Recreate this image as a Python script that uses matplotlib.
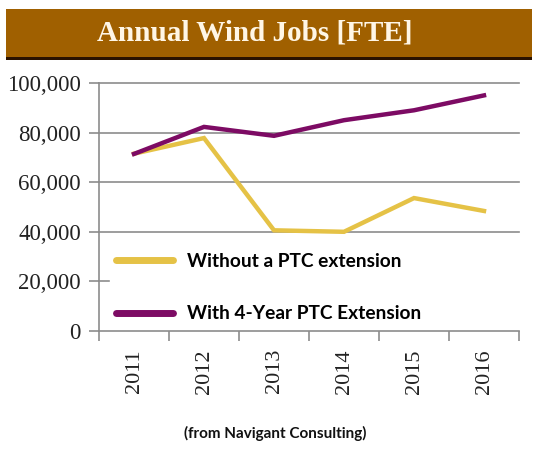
import matplotlib
matplotlib.use("Agg")
import matplotlib.pyplot as plt
from matplotlib.patches import Rectangle
from matplotlib.ticker import FuncFormatter, FixedLocator

years = ["2011", "2012", "2013", "2014", "2015", "2016"]
without_ptc = [71500, 77800, 40600, 40000, 53600, 48400]
with_ptc = [71400, 82300, 78700, 85000, 89000, 95000]
y_ticks = [0, 20000, 40000, 60000, 80000, 100000]
title = "Annual Wind Jobs [FTE]"
label_without = "Without a PTC extension"
label_with = "With 4-Year PTC Extension"
source = "(from Navigant Consulting)"

W, H = 540, 449
fig = plt.figure(figsize=(W / 100, H / 100), dpi=100)
fig.patch.set_facecolor("white")

# title bar
fig.patches.append(Rectangle((6 / W, 1 - 57 / H), (532 - 6) / W, 48 / H,
                             transform=fig.transFigure, facecolor="#A06000",
                             edgecolor="none", zorder=1))
fig.patches.append(Rectangle((6 / W, 1 - 60 / H), (532 - 6) / W, 3 / H,
                             transform=fig.transFigure, facecolor="#2A1200",
                             edgecolor="none", zorder=1))
fig.text(255 / W, 1 - 40 / H, title, ha="center", va="baseline",
         color="#FFF6E6", fontsize=21, fontweight="bold",
         family="Liberation Serif", zorder=3)

ax = fig.add_axes([99 / W, 1 - 331 / H, (519 - 99) / W, (331 - 83) / H])
x = list(range(len(years)))

grid_color = "#8C8C8C"
for v in y_ticks[1:]:
    ax.axhline(v, color=grid_color, lw=1.2, zorder=1, clip_on=False)

ax.plot(x, without_ptc, color="#E5C246", lw=3.2, zorder=4,
        solid_joinstyle="miter", label=label_without)
ax.plot(x, with_ptc, color="#7D0B64", lw=3.2, zorder=5,
        solid_joinstyle="miter", label=label_with)

ax.set_xlim(-0.5, len(years) - 0.5)
ax.set_ylim(0, 100000)

for s in ["top", "right"]:
    ax.spines[s].set_visible(False)
for s in ["left", "bottom"]:
    ax.spines[s].set_color(grid_color)
    ax.spines[s].set_linewidth(1.2)

ax.yaxis.set_major_locator(FixedLocator(y_ticks))
ax.yaxis.set_major_formatter(FuncFormatter(lambda v, p: f"{int(v):,}"))
ax.tick_params(axis="y", length=7, width=1.2, color=grid_color, pad=6,
               labelsize=16.5, labelcolor="#222222")
for lab in ax.get_yticklabels():
    lab.set_family("Liberation Serif")

ax.set_xticks(x)
ax.set_xticklabels(years, rotation=90, family="Liberation Serif",
                   fontsize=16, color="#222222")
ax.tick_params(axis="x", which="major", length=0, pad=13)
ax.set_xticks([i - 0.5 for i in range(len(years) + 1)], minor=True)
ax.tick_params(axis="x", which="minor", length=7, width=1.2, color=grid_color)

leg = ax.legend(loc="center left", bbox_to_anchor=(0.026, 0.0, 0.974, 0.35),
                mode="expand", frameon=True, fancybox=False,
                facecolor="white", edgecolor="white", framealpha=1,
                handlelength=3.0, handletextpad=0.7, labelspacing=1.85,
                borderpad=0.3, borderaxespad=0,
                prop={"family": "Lato", "weight": "bold", "size": 13.8})
leg.set_zorder(3)
for ln in leg.get_lines():
    ln.set_linewidth(5)
    ln.set_solid_capstyle("round")

fig.text(275 / W, 1 - 433 / H, source, ha="center", va="center",
         fontsize=11, fontweight="bold", family="Lato", color="#111111")

fig.savefig("out.png", dpi=100, facecolor="white")
